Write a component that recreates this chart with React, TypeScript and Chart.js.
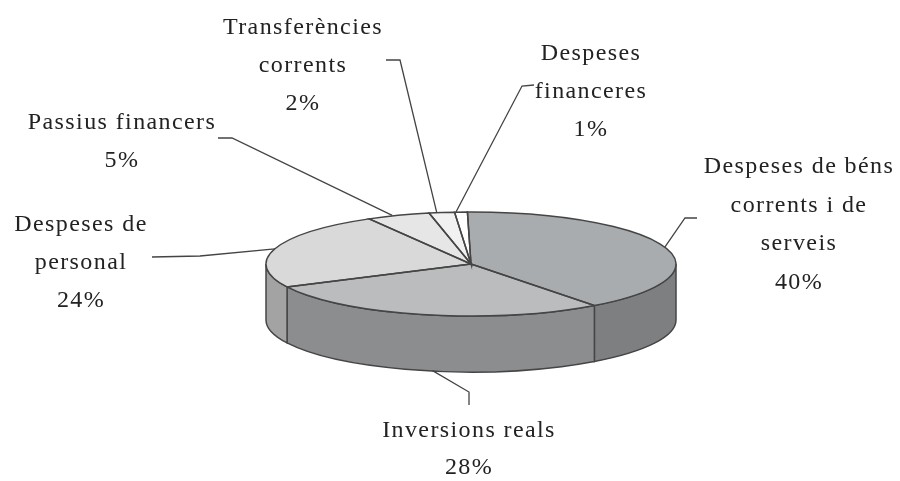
import React, { useEffect, useRef } from "react";
import { Chart, registerables } from "chart.js";

Chart.register(...registerables);

const categories = [
  "Despeses de béns corrents i de serveis",
  "Inversions reals",
  "Despeses de personal",
  "Passius financers",
  "Transferències corrents",
  "Despeses financeres",
];
const values = [40, 28, 24, 5, 2, 1];
const topColors = ["#a9acaf", "#babcbe", "#d9d9d9", "#e6e6e6", "#f1f1f1", "#ffffff"];
const wallColors = ["#7d7f81", "#8b8d8f", "#a3a3a3", "#b0b0b0", "#c0c0c0", "#d0d0d0"];
const labelLines = [
  ["Despeses de béns", "corrents i de", "serveis", "40%"],
  ["Inversions reals", "28%"],
  ["Despeses de", "personal", "24%"],
  ["Passius financers", "5%"],
  ["Transferències", "corrents", "2%"],
  ["Despeses", "financeres", "1%"],
];

// Layout only
const CX = 471, CY = 264, RX = 205, RY = 52, DEPTH = 56;
const labelPos = [
  { x: 799, y: 173, lh: 38.5 },
  { x: 469, y: 437, lh: 37 },
  { x: 81, y: 231, lh: 38 },
  { x: 122, y: 129, lh: 38 },
  { x: 303, y: 34, lh: 38 },
  { x: 591, y: 60, lh: 38 },
];
const anchorNudge = [0, 9, 0, -6, -5, -5];
const leaderBends = [
  [[685, 218], [697, 218]],
  [[469, 392], [469, 405]],
  [[200, 256], [152, 257]],
  [[232, 138], [218, 138]],
  [[400, 60], [386, 60]],
  [[522, 86], [534, 85]],
];

const pie3d = {
  id: "pie3d",
  beforeDatasetsDraw(chart: any) {
    const ctx = chart.ctx;
    const arcs = chart.getDatasetMeta(0).data;
    ctx.save();
    ctx.lineWidth = 1.5;
    ctx.strokeStyle = "#454545";
    arcs.forEach((arc: any, i: number) => {
      const a0 = Math.max(arc.startAngle, 0);
      const a1 = Math.min(arc.endAngle, Math.PI);
      if (a1 <= a0) return;
      ctx.beginPath();
      ctx.ellipse(CX, CY, RX, RY, 0, a0, a1);
      ctx.ellipse(CX, CY + DEPTH, RX, RY, 0, a1, a0, true);
      ctx.closePath();
      ctx.fillStyle = wallColors[i];
      ctx.fill();
      ctx.stroke();
    });
    ctx.restore();
    ctx.save();
    const a = arcs[0];
    ctx.translate(CX, CY);
    ctx.scale(RX / a.outerRadius, RY / a.outerRadius);
    ctx.translate(-a.x, -a.y);
  },
  afterDatasetsDraw(chart: any) {
    const ctx = chart.ctx;
    ctx.restore();
    const arcs = chart.getDatasetMeta(0).data;
    ctx.save();
    ctx.strokeStyle = "#454545";
    ctx.lineWidth = 1.5;
    arcs.forEach((arc: any) => {
      ctx.beginPath();
      ctx.moveTo(CX, CY);
      ctx.ellipse(CX, CY, RX, RY, 0, arc.startAngle, arc.endAngle);
      ctx.closePath();
      ctx.stroke();
    });
    // leaders
    arcs.forEach((arc: any, i: number) => {
      const m = (arc.startAngle + arc.endAngle) / 2;
      const onFront = Math.sin(m) > 0.9;
      const ax = CX + RX * Math.cos(m) + anchorNudge[i];
      const ay = CY + RY * Math.sin(m) + (onFront ? DEPTH : 0);
      ctx.beginPath();
      ctx.moveTo(ax, ay);
      leaderBends[i].forEach(([x, y]) => ctx.lineTo(x, y));
      ctx.strokeStyle = "#444444";
      ctx.lineWidth = 1.3;
      ctx.stroke();
    });
    // labels
    ctx.font = '24px "Liberation Serif"';
    ctx.fillStyle = "#222222";
    ctx.textAlign = "center";
    ctx.textBaseline = "alphabetic";
    ctx.letterSpacing = "1.4px";
    labelLines.forEach((lines, i) => {
      const p = labelPos[i];
      lines.forEach((t, j) => ctx.fillText(t, p.x, p.y + j * p.lh));
    });
    ctx.restore();
  },
};

export default function App() {
  const ref = useRef<HTMLCanvasElement>(null);
  useEffect(() => {
    document.body.style.margin = "0";
    const chart = new Chart(ref.current!, {
      type: "pie",
      data: {
        labels: categories,
        datasets: [{ data: values, backgroundColor: topColors, borderWidth: 0, clip: false } as any],
      },
      options: {
        responsive: false,
        animation: false,
        rotation: -1,
        layout: { padding: { left: 266, right: 224, top: 59, bottom: 12 } },
        plugins: { legend: { display: false }, tooltip: { enabled: false } },
      },
      plugins: [pie3d],
    });
    return () => chart.destroy();
  }, []);
  return (
    <canvas
      ref={ref}
      width={900}
      height={481}
      style={{ display: "block", width: 900, height: 481, filter: "blur(0.6px)" }}
    />
  );
}
